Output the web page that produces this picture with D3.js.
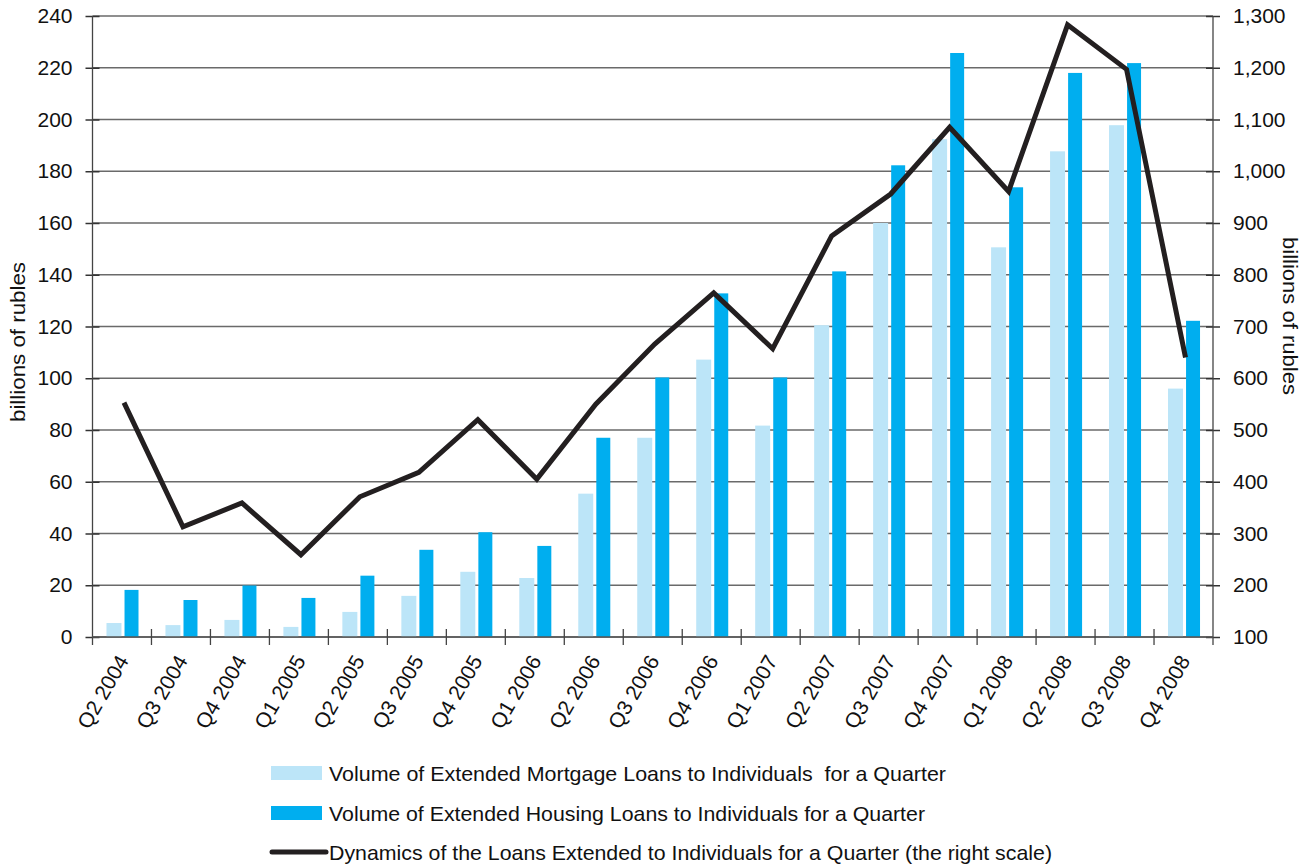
<!DOCTYPE html>
<html>
<head>
<meta charset="utf-8">
<script src="https://cdn.jsdelivr.net/npm/d3@7/dist/d3.min.js"></script>
<style>
  html, body { margin: 0; padding: 0; background: #fff; }
  svg { display: block; font-family: "Liberation Sans", Arial, Helvetica, sans-serif; }
  .pre { white-space: pre; }
</style>
</head>
<body>
<svg id="chart" width="1303" height="865"></svg>
<script>
const categories = ["Q2 2004","Q3 2004","Q4 2004","Q1 2005","Q2 2005","Q3 2005","Q4 2005","Q1 2006","Q2 2006","Q3 2006","Q4 2006","Q1 2007","Q2 2007","Q3 2007","Q4 2007","Q1 2008","Q2 2008","Q3 2008","Q4 2008"];
const mortgage = [5.4, 4.6, 6.6, 3.9, 9.7, 15.9, 25.2, 22.8, 55.4, 77.0, 107.2, 81.7, 120.5, 160.0, 192.4, 150.6, 187.7, 197.8, 96.0];
const housing  = [18.2, 14.3, 19.9, 15.1, 23.7, 33.7, 40.5, 35.2, 77.0, 100.3, 132.8, 100.3, 141.3, 182.3, 225.7, 173.8, 218.0, 221.8, 122.2];
const totalLoans = [553, 313, 359, 259, 371, 418, 520, 405, 550, 666, 765, 657, 875, 956, 1085, 961, 1283, 1197, 640];
const leftTicks = [0,20,40,60,80,100,120,140,160,180,200,220,240];
const rightTicks = [100,200,300,400,500,600,700,800,900,1000,1100,1200,1300];
const legendLabels = [
  "Volume of Extended Mortgage Loans to Individuals  for a Quarter",
  "Volume of Extended Housing Loans to Individuals for a Quarter",
  "Dynamics of the Loans Extended to Individuals for a Quarter (the right scale)"
];
const axisTitle = "billions of rubles";

const C_LIGHT = "#bce5f8", C_DARK = "#00aeef", C_LINE = "#231f20";
const L = 92.5, R = 1213, T = 16, B = 637;

const svg = d3.select("#chart");
const x = d3.scaleBand().domain(categories).range([L, R]).paddingInner(0).paddingOuter(0);
const yL = d3.scaleLinear().domain([0, 240]).range([B, T]);
const yR = d3.scaleLinear().domain([100, 1300]).range([B, T]);
const bw = x.bandwidth();

// gridlines
svg.append("g").selectAll("line").data(leftTicks).join("line")
  .attr("x1", L).attr("x2", R)
  .attr("y1", d => yL(d)).attr("y2", d => yL(d))
  .attr("stroke", "#6a6a6a").attr("stroke-width", 1.5);

// bars
svg.append("g").selectAll("rect").data(categories).join("rect")
  .attr("x", d => x(d) + bw * 0.237)
  .attr("width", bw * 0.254)
  .attr("y", (d, i) => yL(mortgage[i]))
  .attr("height", (d, i) => yL(0) - yL(mortgage[i]))
  .attr("fill", C_LIGHT);
svg.append("g").selectAll("rect").data(categories).join("rect")
  .attr("x", d => x(d) + bw * 0.543)
  .attr("width", bw * 0.237)
  .attr("y", (d, i) => yL(housing[i]))
  .attr("height", (d, i) => yL(0) - yL(housing[i]))
  .attr("fill", C_DARK);

// axes
const axL = d3.axisLeft(yL).tickValues(leftTicks).tickSize(7).tickPadding(13);
const gL = svg.append("g").attr("transform", `translate(${L},0)`).call(axL);
const axR = d3.axisRight(yR).tickValues(rightTicks).tickSize(7).tickPadding(13).tickFormat(d3.format(","));
const gR = svg.append("g").attr("transform", `translate(${R},0)`).call(axR);
[gL, gR].forEach(g => {
  g.select(".domain").remove();
  g.selectAll(".tick line").attr("stroke", "#333").attr("stroke-width", 1.5);
  g.selectAll(".tick text").attr("font-size", 21).attr("fill", "#111")
    .attr("font-family", "'Liberation Sans', Arial, sans-serif");
});
gL.selectAll(".tick line").attr("x1", 7);
gR.selectAll(".tick line").attr("x1", -7);

// vertical axis lines
svg.append("line").attr("x1", L).attr("x2", L).attr("y1", T).attr("y2", B + 8).attr("stroke", "#444").attr("stroke-width", 1.3);
svg.append("line").attr("x1", R).attr("x2", R).attr("y1", T).attr("y2", B + 8).attr("stroke", "#444").attr("stroke-width", 1.3);
svg.append("line").attr("x1", L).attr("x2", R).attr("y1", B).attr("y2", B).attr("stroke", "#555").attr("stroke-width", 1.5);

// x ticks at band boundaries
const bounds = categories.slice(1).map(c => x(c));
svg.append("g").selectAll("line").data(bounds).join("line")
  .attr("x1", d => d).attr("x2", d => d)
  .attr("y1", B - 8).attr("y2", B + 8)
  .attr("stroke", "#444").attr("stroke-width", 1.3);

// x labels
svg.append("g").selectAll("text").data(categories).join("text")
  .attr("transform", d => `translate(${x(d) + bw / 2 + 1},${B + 20}) rotate(-60)`)
  .attr("text-anchor", "end")
  .attr("dy", "0.35em")
  .attr("font-size", 21).attr("fill", "#111")
  .text(d => d);

// line
const line = d3.line()
  .x((d, i) => x(categories[i]) + bw / 2 + 2)
  .y(d => yR(d));
svg.append("path").datum(totalLoans)
  .attr("d", line)
  .attr("fill", "none").attr("stroke", C_LINE)
  .attr("stroke-width", 5).attr("stroke-linejoin", "miter");

// axis titles
svg.append("text").attr("transform", "translate(25,342) rotate(-90)")
  .attr("text-anchor", "middle").attr("font-size", 21).attr("fill", "#111")
  .attr("textLength", 160).attr("lengthAdjust", "spacingAndGlyphs")
  .text(axisTitle);
svg.append("text").attr("transform", "translate(1283,316) rotate(90)")
  .attr("text-anchor", "middle").attr("font-size", 21).attr("fill", "#111")
  .attr("textLength", 158).attr("lengthAdjust", "spacingAndGlyphs")
  .text(axisTitle);

// legend
const lg = svg.append("g");
const rows = [773, 813, 852];
const widths = [617, 596, 723];
lg.append("rect").attr("x", 271).attr("y", rows[0] - 7).attr("width", 51).attr("height", 14).attr("fill", C_LIGHT);
lg.append("rect").attr("x", 271).attr("y", rows[1] - 7).attr("width", 51).attr("height", 14).attr("fill", C_DARK);
lg.append("line").attr("x1", 272).attr("x2", 326).attr("y1", rows[2]).attr("y2", rows[2])
  .attr("stroke", C_LINE).attr("stroke-width", 5).attr("stroke-linecap", "round");
lg.selectAll("text").data(legendLabels).join("text")
  .attr("class", "pre")
  .attr("x", 329).attr("y", (d, i) => rows[i] + 8)
  .attr("font-size", 21).attr("fill", "#111")
  .attr("textLength", (d, i) => widths[i]).attr("lengthAdjust", "spacingAndGlyphs")
  .text(d => d);
</script>
</body>
</html>
